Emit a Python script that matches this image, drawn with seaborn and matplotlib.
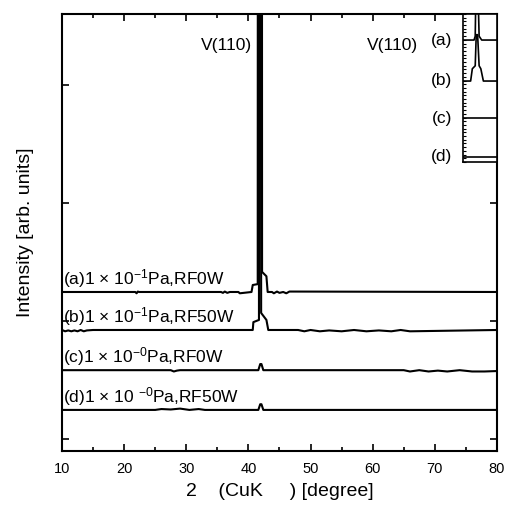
# XRD patterns of V films (4 conditions), offset stack with an inset of the V(110) peak

import seaborn as sns
import matplotlib.pyplot as plt
from matplotlib.ticker import MultipleLocator

# ---- data (intensity in arb. units, offset per curve) ----
a_x = [10, 21.8, 22.0, 22.2, 22.4, 35.6, 35.9, 36.2, 36.6, 37.0, 38.4, 38.6, 40.5, 40.7,
       41.5, 41.55, 42.15, 42.2, 42.9, 43.1, 43.8, 44.1, 44.6, 45.0, 45.6, 46.1, 46.6, 80]
a_y = [364, 364, 361, 365, 364, 364, 362, 365, 362, 364, 364, 361, 364, 380,
       382, 3000, 3000, 410, 400, 364, 364, 361, 365, 362, 364, 361, 365, 364]

b_x = [10, 10.5, 11.0, 11.5, 12.0, 12.5, 13.0, 13.5, 14.0, 15.0, 16.5, 40.7, 40.8, 41.7,
       41.75, 42.0, 42.05, 42.9, 43.2, 48.0, 49.0, 50.0, 51.5, 53.0, 55.0, 57.0, 59.0, 61.0,
       63.0, 64.5, 66.0, 80]
b_y = [277, 274, 276, 274, 276, 274, 277, 274, 276, 277, 277, 277, 295, 300,
       3000, 3000, 316, 300, 277, 277, 274, 277, 274, 276, 274, 277, 274, 276,
       274, 277, 274, 277]

c_x = [10, 27.5, 28.0, 28.5, 29.0, 41.6, 41.9, 42.1, 42.4, 65.0, 66.0, 67.5, 69.0, 70.5,
       72.0, 74.0, 76.0, 78.0, 80]
c_y = [185, 185, 182, 184, 185, 185, 199, 199, 185, 185, 182, 185, 182, 184,
       182, 185, 182, 182, 183]

d_x = [10, 25.0, 26.0, 27.5, 29.0, 30.5, 32.0, 33.0, 41.6, 41.9, 42.1, 42.4, 80]
d_y = [94, 94, 96, 95, 97, 94, 96, 94, 94, 107, 107, 94, 94]

# inset: zoom on the V(110) peak
ia_x = [41.0, 41.65, 41.72, 41.78, 41.85, 41.95, 42.1, 43.0]
ia_y = [82.4, 82.4, 85, 130, 130, 85, 82.4, 82.4]
ib_x = [41.0, 41.45, 41.55, 41.72, 41.78, 41.86, 41.95, 42.05, 42.2, 43.0]
ib_y = [54.7, 54.7, 63, 65, 86, 86, 65, 63, 54.7, 54.7]
ic_x = [41.0, 43.0]
ic_y = [29.7, 29.7]
id_x = [41.0, 43.0]
id_y = [3.4, 3.4]

curve_labels = ['(a)1 $\\times$ 10$^{-1}$Pa,RF0W',
                '(b)1 $\\times$ 10$^{-1}$Pa,RF50W',
                '(c)1 $\\times$ 10$^{-0}$Pa,RF0W',
                '(d)1 $\\times$ 10 $^{-0}$Pa,RF50W']
curve_base = [364, 277, 185, 94]
inset_labels = ['(a)', '(b)', '(c)', '(d)']
inset_label_y = [940, 849, 762, 675]

sns.set_style('ticks')
plt.rcParams['font.family'] = ['Liberation Sans', 'DejaVu Sans']
plt.rcParams['mathtext.fontset'] = 'custom'
plt.rcParams['mathtext.rm'] = 'Liberation Sans'
plt.rcParams['mathtext.it'] = 'Liberation Sans:italic'
plt.rcParams['text.color'] = 'black'
plt.rcParams['axes.labelcolor'] = 'black'
plt.rcParams['xtick.color'] = 'black'
plt.rcParams['ytick.color'] = 'black'

fig = plt.figure(figsize=(5.05, 5.07), dpi=100)
ax = fig.add_axes([0.1228, 0.1105, 0.8612, 0.8615])

for xs, ys in [(a_x, a_y), (b_x, b_y), (c_x, c_y), (d_x, d_y)]:
    sns.lineplot(x=xs, y=ys, ax=ax, color='black', linewidth=1.5,
                 sort=False, estimator=None)

ax.set_xlim(10, 80)
ax.set_ylim(0, 1000)
ax.xaxis.set_major_locator(MultipleLocator(10))
ax.xaxis.set_minor_locator(MultipleLocator(5))
ax.set_yticks([28, 298, 568, 838])
ax.set_yticklabels([])
ax.tick_params(which='both', direction='in', top=True, right=True, width=1.2,
               labelsize=10.5, colors='black')
ax.tick_params(which='major', length=5, pad=8)
ax.tick_params(which='minor', length=3)
for s in ax.spines.values():
    s.set_linewidth(1.5)
    s.set_color('black')

ax.set_xlabel('2    (CuK     ) [degree]', fontsize=14, labelpad=5)
ax.set_ylabel('Intensity [arb. units]', fontsize=14, labelpad=12)

for lab, base in zip(curve_labels, curve_base):
    ax.text(10.2, base + 5, lab, fontsize=12.5, ha='left', va='bottom')

ax.text(36.4, 929, 'V(110)', fontsize=12.5, ha='center', va='center')
ax.text(63.2, 929, 'V(110)', fontsize=12.5, ha='center', va='center')
for lab, yy in zip(inset_labels, inset_label_y):
    ax.text(71.1, yy, lab, fontsize=12.5, ha='center', va='center')

# inset
ins = fig.add_axes([0.9168, 0.6805, 0.0673, 0.2919])
for xs, ys in [(ia_x, ia_y), (ib_x, ib_y), (ic_x, ic_y), (id_x, id_y)]:
    sns.lineplot(x=xs, y=ys, ax=ins, color='black', linewidth=1.2,
                 sort=False, estimator=None)
ins.set_xlim(41, 43)
ins.set_ylim(0, 100)
ins.set_xticks([])
ins.yaxis.set_major_locator(MultipleLocator(10))
ins.yaxis.set_minor_locator(MultipleLocator(2.5))
ins.set_yticklabels([])
ins.tick_params(axis='y', which='both', direction='in', length=2, width=0.8, right=False)
for s in ins.spines.values():
    s.set_linewidth(1.2)
    s.set_color('black')

plt.savefig('out.png', dpi=100)
